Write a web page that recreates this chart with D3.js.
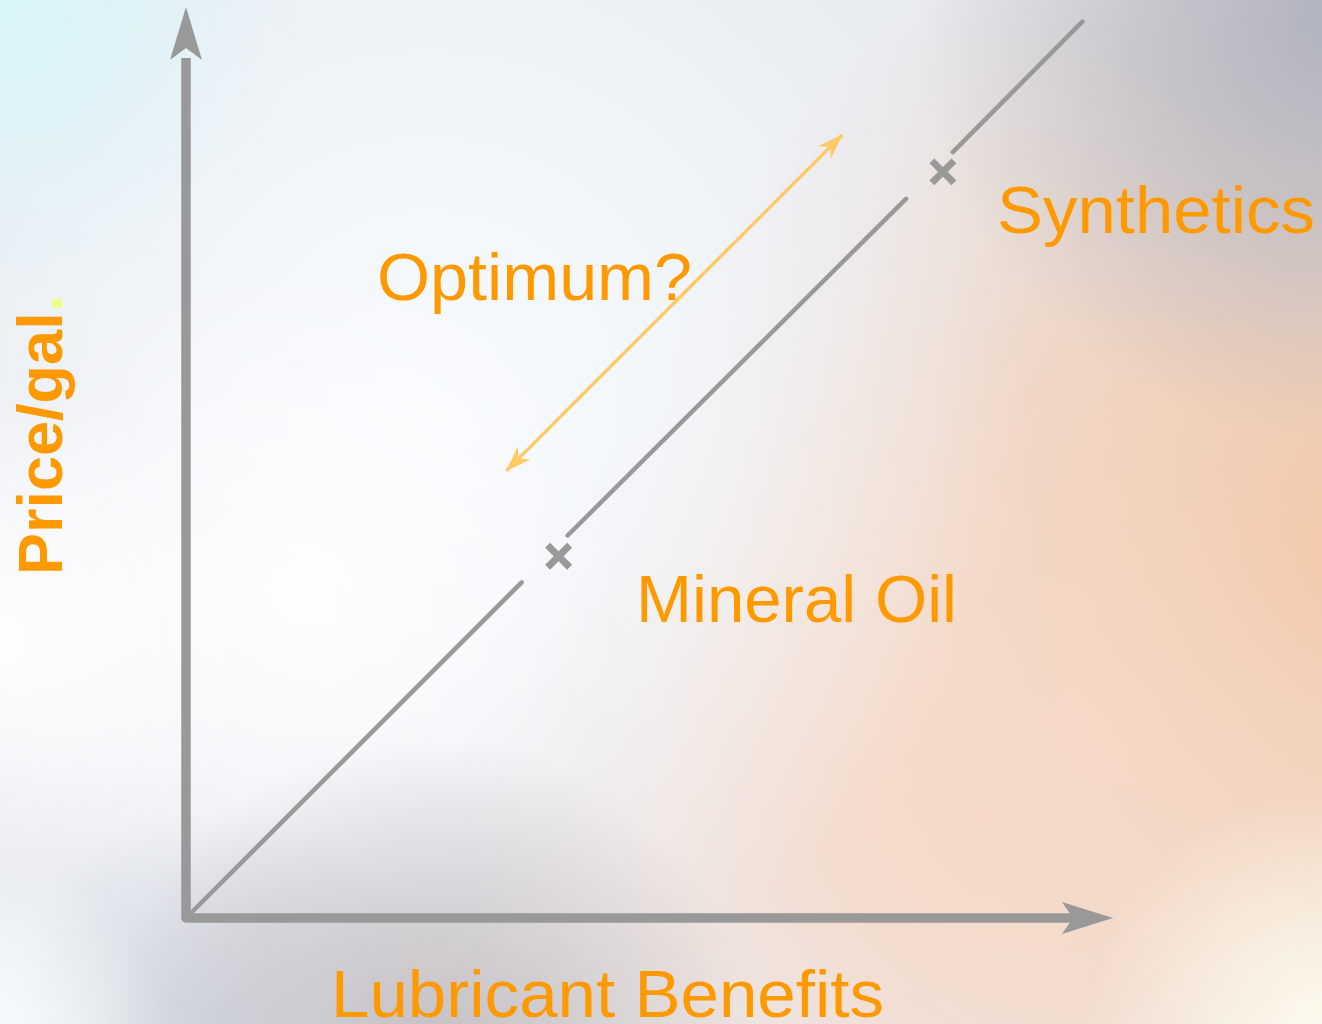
<!DOCTYPE html>
<html>
<head>
<meta charset="utf-8">
<script src="https://cdn.jsdelivr.net/npm/d3@7"></script>
<style>
  html, body { margin: 0; padding: 0; background: #fff; }
  svg { display: block; font-family: "Liberation Sans", Arial, Helvetica, sans-serif; }
</style>
</head>
<body>
<div id="chart"></div>
<script>
// data (x = lubricant benefits, y = price/gal, both 0..100)
var lineSegments = [
  [[0.5, 0.5], [37.3, 37.3]],
  [[42.4, 42.5], [80.0, 79.9]],
  [[85.2, 85.1], [99.6, 99.6]]
];
var products = ["Mineral Oil", "Synthetics"];
var productX = [41.4, 84.1];
var productY = [40.2, 82.9];
var optimumFrom = [35.6, 49.7];
var optimumTo = [72.9, 87.0];
var xLabel = "Lubricant Benefits";
var yLabel = "Price/gal";

var W = 1322, H = 1024;
var orange = "#ff9900", gray = "#999999", yellow = "#ffc966";

var x = d3.scaleLinear().domain([0, 100]).range([186, 1086]);
var y = d3.scaleLinear().domain([0, 100]).range([918, 18]);

var svg = d3.select("#chart").append("svg")
  .attr("width", W)
  .attr("height", H);

var defs = svg.append("defs");

// background glows: [id, cx, cy, r, color, opacity]
var glows = [
  ["gPeach", 1340, 560, 700, "#f2c6a6", 1],
  ["gPeach2", 980, 820, 520, "#f7d9c7", 0.9],
  ["gGray", 1340, 20, 420, "#afb2be", 1],
  ["gWhite", 430, 400, 600, "#f8fbfe", 1],
  ["gWhite2", 300, 600, 330, "#ffffff", 0.8],
  ["gCyan", 0, 0, 300, "#d8f5fa", 1],
  ["gMauve", 430, 1070, 330, "#bdb5b7", 0.85],
  ["gBlueGray", 220, 1030, 220, "#c4c9d2", 0.6],
  ["gCorner", -30, 1050, 200, "#f6fdff", 1],
  ["gLeft", 0, 640, 260, "#ffffff", 0.9],
  ["gCream", 1322, 1030, 240, "#fcfaec", 1]
];

glows.forEach(function(g) {
  var rg = defs.append("radialGradient")
    .attr("id", g[0])
    .attr("gradientUnits", "userSpaceOnUse")
    .attr("cx", g[1]).attr("cy", g[2]).attr("r", g[3]);
  rg.append("stop").attr("offset", "0%").attr("stop-color", g[4]).attr("stop-opacity", g[5]);
  rg.append("stop").attr("offset", "45%").attr("stop-color", g[4]).attr("stop-opacity", g[5] * 0.6);
  rg.append("stop").attr("offset", "100%").attr("stop-color", g[4]).attr("stop-opacity", 0);
});

svg.append("rect").attr("width", W).attr("height", H).attr("fill", "#e8ebf0");
glows.forEach(function(g) {
  svg.append("rect").attr("width", W).attr("height", H).attr("fill", "url(#" + g[0] + ")");
});

// arrow marker for the optimum double arrow
defs.append("marker")
  .attr("id", "optHead")
  .attr("markerUnits", "userSpaceOnUse")
  .attr("viewBox", "-30 -12 32 24")
  .attr("refX", 0).attr("refY", 0)
  .attr("markerWidth", 32).attr("markerHeight", 24)
  .attr("orient", "auto-start-reverse")
  .append("path")
  .attr("d", "M1,0 L-25,-9 L-17,0 L-25,9 Z")
  .attr("fill", yellow);

// axes
var x0 = x(0), y0 = y(0);
var yTop = y(100), xEnd = x(103);

svg.append("path")
  .attr("d", "M" + x0 + "," + (yTop + 40) + " L" + x0 + "," + y0 + " L" + (xEnd - 40) + "," + y0)
  .attr("fill", "none")
  .attr("stroke", gray)
  .attr("stroke-width", 9.5)
  .attr("stroke-linejoin", "round");

// y arrow head
svg.append("path")
  .attr("d", "M" + x0 + "," + (yTop - 11) +
    " L" + (x0 + 16) + "," + (yTop + 42) +
    " L" + x0 + "," + (yTop + 30) +
    " L" + (x0 - 16) + "," + (yTop + 42) + " Z")
  .attr("fill", gray);

// x arrow head
svg.append("path")
  .attr("d", "M" + (xEnd) + "," + y0 +
    " L" + (xEnd - 51) + "," + (y0 - 16) +
    " L" + (xEnd - 40) + "," + y0 +
    " L" + (xEnd - 51) + "," + (y0 + 16) + " Z")
  .attr("fill", gray);

// diagonal price/benefit line
var line = d3.line().x(function(d) { return x(d[0]); }).y(function(d) { return y(d[1]); });

svg.selectAll(".diag")
  .data(lineSegments)
  .enter().append("path")
  .attr("class", "diag")
  .attr("d", line)
  .attr("stroke", gray)
  .attr("stroke-width", 4.5)
  .attr("stroke-linecap", "round")
  .attr("fill", "none");

// product markers
svg.selectAll(".mark")
  .data(products)
  .enter().append("path")
  .attr("class", "mark")
  .attr("transform", function(d, i) { return "translate(" + x(productX[i]) + "," + y(productY[i]) + ")"; })
  .attr("d", "M-11,-11 L11,11 M-11,11 L11,-11")
  .attr("stroke", gray)
  .attr("stroke-width", 7)
  .attr("fill", "none");

// optimum double arrow
svg.append("line")
  .attr("x1", x(optimumFrom[0])).attr("y1", y(optimumFrom[1]))
  .attr("x2", x(optimumTo[0])).attr("y2", y(optimumTo[1]))
  .attr("stroke", yellow)
  .attr("stroke-width", 3.5)
  .attr("marker-start", "url(#optHead)")
  .attr("marker-end", "url(#optHead)");

// labels
function label(txt, px, py, len) {
  svg.append("text")
    .attr("x", px).attr("y", py)
    .attr("fill", orange)
    .style("font-size", "66px")
    .attr("textLength", len)
    .attr("lengthAdjust", "spacingAndGlyphs")
    .text(txt);
}
label("Optimum?", 377, 300, 315);
label(products[0], 636, 622, 321);
label(products[1], 997, 233, 318);
label(xLabel, 331, 1017, 553);

var yl = svg.append("text")
  .attr("transform", "translate(62,575) rotate(-90)")
  .attr("fill", orange)
  .style("font-size", "63px")
  .style("font-weight", "bold");
yl.append("tspan").text(yLabel);
yl.append("tspan").attr("fill", "#eeff88").text(".");
</script>
</body>
</html>
